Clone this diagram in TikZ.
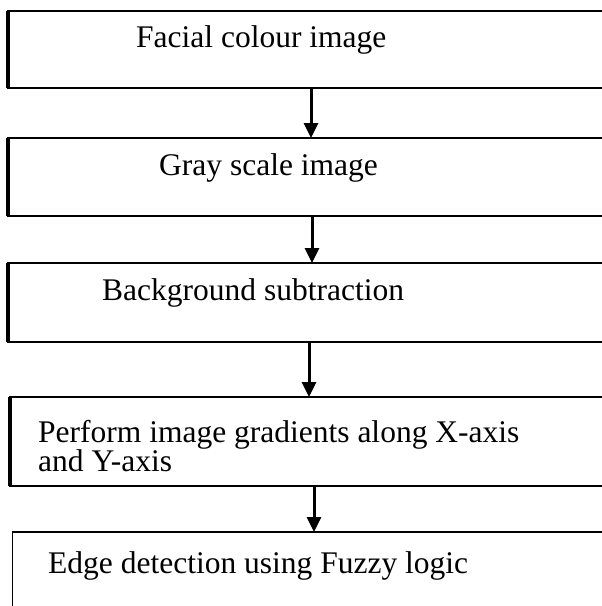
\documentclass[tikz,border=0pt]{standalone}
\usepackage{fontspec}
\setmainfont{Liberation Serif}
\usetikzlibrary{arrows.meta, positioning}
\tikzset{
  stagebox/.style={draw, rectangle, line width=2pt, minimum width=640pt, anchor=north west, inner sep=0pt, outer sep=0pt},
  stagetext/.style={anchor=west, inner sep=0pt, font=\fontsize{31.5}{28.5}\selectfont, align=left},
  flow/.style={-{Triangle[width=14pt,length=15pt]}, line width=3pt},
  leftedge/.style={line width=3.5pt},
}

\begin{document}
\begin{tikzpicture}[x=1pt, y=-1pt]
    % page frame
    \clip (0,0) rectangle (602,606);

    % boxes
    \node[stagebox, line width=1.3pt, minimum height=77pt] (face) at (8,11) {};
    \node[stagebox, minimum height=78pt] (gray) at (8,138) {};
    \node[stagebox, minimum height=79pt] (bg) at (8,263) {};
    \node[stagebox, minimum height=89pt] (grad) at (10,397) {};
    \node[stagebox, line width=1pt, minimum height=110pt] (edge) at (12,532) {};
    \draw[line width=2pt] (edge.north west) -- (edge.north east);

    % thick left sides
    \draw[leftedge] (face.north west) -- (face.south west);
    \draw[leftedge] (gray.north west) -- (gray.south west);
    \draw[leftedge] (bg.north west) -- (bg.south west);
    \draw[leftedge] (grad.north west) -- (grad.south west);

    % labels
    \node[stagetext] (faceText) at (136,40) {Facial colour image};
    \node[stagetext] (grayText) at (159,168) {Gray scale image};
    \node[stagetext] (bgText) at (102,293) {Background subtraction};
    \node[stagetext] (gradText) at (38,446) {Perform image gradients along X-axis\\and Y-axis};
    \node[stagetext] (edgeText) at (48,566) {Edge detection using Fuzzy logic};

    % arrows
    \coordinate (a1) at (311,0);
    \coordinate (a2) at (312,0);
    \coordinate (a3) at (309,0);
    \coordinate (a4) at (314,0);
    \draw[flow] (face.south west -| a1) -- (gray.north west -| a1);
    \draw[flow] (gray.south west -| a2) -- (bg.north west -| a2);
    \draw[flow] (bg.south west -| a3) -- (grad.north west -| a3);
    \draw[flow] (grad.south west -| a4) -- (edge.north west -| a4);
\end{tikzpicture}
\end{document}
